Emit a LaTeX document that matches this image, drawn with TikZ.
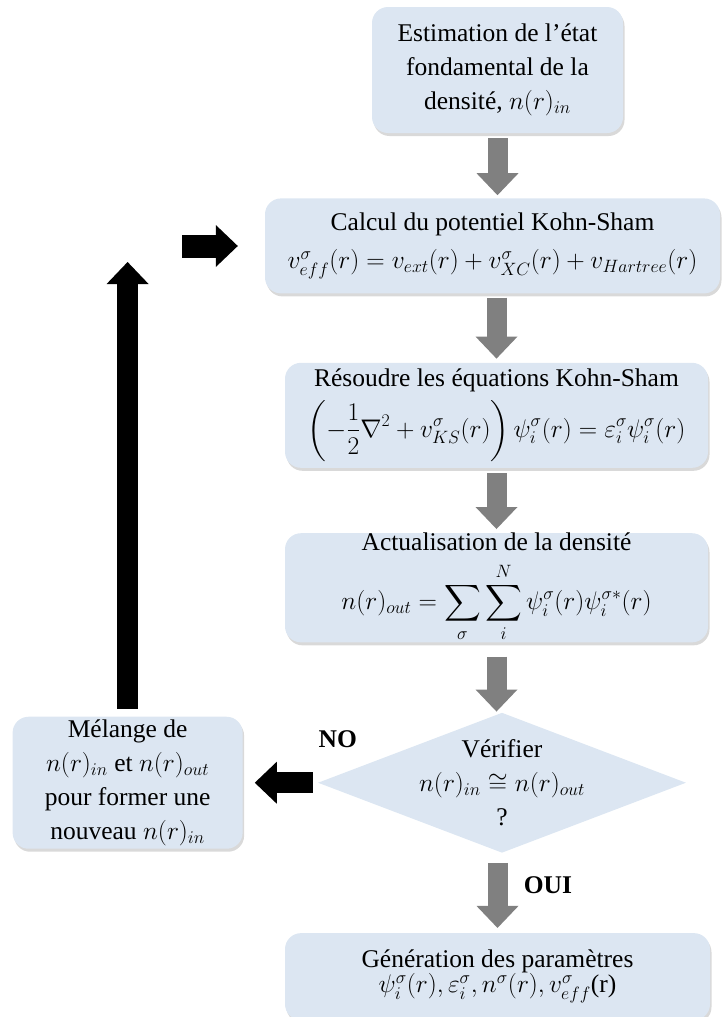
\documentclass[tikz,border=0pt]{standalone}
\usepackage{fix-cm}
\usepackage{amsmath,amssymb}
\usepackage{fontspec}
\setmainfont{Liberation Serif}
\usetikzlibrary{arrows.meta,positioning,shapes.geometric,shadows}
\definecolor{boxblue}{RGB}{220,230,242}

\begin{document}
\begin{tikzpicture}[x=1pt, y=1pt,
 every node/.style={align=center, font=\fontsize{25.5}{34}\selectfont},
 stepbox/.style={fill=boxblue, rounded corners=16pt, inner sep=0pt,
   drop shadow={shadow xshift=1.5pt, shadow yshift=-3pt, opacity=.3}},
 decision/.style={diamond, fill=boxblue, inner sep=0pt, aspect=2.6},
 greyarrow/.style={draw=gray, line width=20pt,
   -{Triangle[width=42pt, length=22pt, line width=0pt]}},
 blackarrow/.style={draw=black, line width=21pt,
   -{Triangle[width=42pt, length=22pt, line width=0pt]}}]
\useasboundingbox (0,0) rectangle (721,-1017);
\node[stepbox, minimum width=251pt, minimum height=126pt] (init) at (497.5,-70)
 {Estimation de l’état\\fondamental de la\\densité, $n(r)_{in}$};
\node[stepbox, minimum width=455pt, minimum height=95pt, below=65pt of init, xshift=-5pt] (ks)
 {Calcul du potentiel Kohn-Sham\\[4pt]
 $v^\sigma_{eff}(r)=v_{ext}(r)+v^\sigma_{XC}(r)+v_{Hartree}(r)$};
\node[stepbox, minimum width=423pt, minimum height=105pt, below=69pt of ks, xshift=4pt] (solve)
 {Résoudre les équations Kohn-Sham\\[7pt]
 $\displaystyle\left(-\frac{1}{2}\nabla^2+v^\sigma_{KS}(r)\right)\psi^\sigma_i(r)=\varepsilon^\sigma_i\psi^\sigma_i(r)$};
\node[stepbox, minimum width=423pt, minimum height=106pt, below=65pt of solve] (update)
 {Actualisation de la densité\\[11pt]
 $\displaystyle n(r)_{out}=\sum_\sigma\sum_i^N\psi^\sigma_i(r)\psi^{\sigma *}_i(r)$};
\node[decision, minimum width=368pt, minimum height=140pt, below=70pt of update, xshift=5.5pt] (check) {};
\node (checktext) at (check) {Vérifier\\$n(r)_{in}\cong n(r)_{out}$\\?};
\node[stepbox, minimum width=230pt, minimum height=132pt, left=75pt of check] (mix)
 {Mélange de\\$n(r)_{in}$ et $n(r)_{out}$\\pour former une\\nouveau $n(r)_{in}$};
\node[stepbox, minimum width=425pt, minimum height=87pt, below=80pt of check, xshift=-4.5pt] (params)
 {Génération des paramètres\\[-9pt]
 $\psi^\sigma_i(r), \varepsilon^\sigma_i, n^\sigma(r), v^\sigma_{eff}$(r)};
\coordinate (looptop) at (127.5,-262);
\coordinate (loopin) at (182,-246);
% main loop
\draw[greyarrow, shorten <=5pt, shorten >=3pt] (init.south) -- (init.south |- ks.north);
\draw[greyarrow, shorten <=4pt, shorten >=4pt] (solve.north |- ks.south) -- (solve.north);
\draw[greyarrow, shorten <=5pt, shorten >=4pt] (solve.south) -- (update.north);
\draw[greyarrow, shorten <=14pt, shorten >=1pt] (update.south) -- (update.south |- check.north);
\draw[greyarrow, shorten <=10pt, shorten >=5pt] (params.north |- check.south) -- (params.north)
 node[pos=.4, right=13pt] (yes) {\bfseries OUI};
% back to the start
\draw[blackarrow, shorten <=5pt, shorten >=12pt] (check.west) -- (check.west -| mix.east);
\node (no) at ([shift={(20pt,44pt)}]check.west) {\bfseries NO};
\draw[blackarrow, shorten <=8pt] (mix.north) -- (mix.north |- looptop);
\draw[blackarrow, line width=23pt, shorten >=27pt] (loopin) -- (loopin -| ks.west);
\end{tikzpicture}
\end{document}
